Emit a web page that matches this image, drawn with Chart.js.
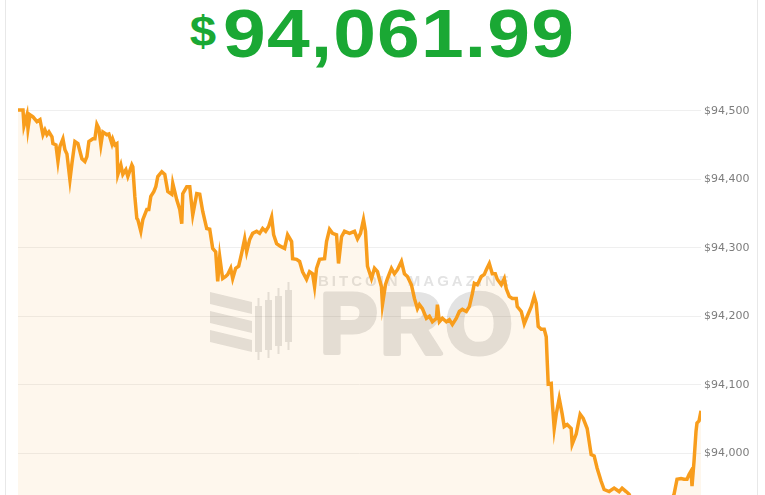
<!DOCTYPE html>
<html>
<head>
<meta charset="utf-8">
<script src="https://cdn.jsdelivr.net/npm/chart.js@4.4.1/dist/chart.umd.min.js"></script>
<style>
  html, body { margin: 0; padding: 0; background: #fff; overflow: hidden; width: 765px; height: 495px; }
  .card { position: absolute; left: 5px; top: -20px; width: 751px; height: 600px; border: 1px solid #e8e8e8; border-radius: 6px; }
  .price { position: absolute; left: 0; top: -7px; width: 765px; text-align: center; }
  .price span.num { display: inline-block; transform: scaleX(1.13); color: #1aa834;
           font-family: "Liberation Sans", Arial, sans-serif; font-weight: bold; font-size: 68px; line-height: 80px;
           letter-spacing: 1px; white-space: nowrap; }
  .price .cur { font-size: 42px; position: relative; top: -11px; letter-spacing: 6px; }
  .wrap { position: absolute; left: 0; top: 95px; width: 765px; height: 450px; }
</style>
</head>
<body>
<div class="card"></div>
<div class="price"><span class="num"><span class="cur">$</span>94,061.99</span></div>
<div class="wrap"><canvas id="price-chart" width="765" height="450"></canvas></div>
<script>
// minutes since start of the window
const minutes = [
  0, 10, 12, 18, 20, 24, 30, 38, 44, 50, 54, 58, 62, 68, 70, 76, 80, 84, 90, 94, 98,
  104, 108, 114, 120, 128, 134, 138, 142, 150, 154, 158, 162, 166, 170, 178, 182, 188, 190, 194, 198,
  200, 206, 210, 216, 220, 228, 230, 234, 238, 240, 246, 250, 258, 262, 266, 272, 276, 280, 288, 294,
  300, 308, 310, 318, 324, 328, 330, 338, 344, 350, 358, 364, 370, 378, 384, 390, 396,
  400, 404, 408, 410, 416, 420, 426, 430, 436, 442, 448, 454, 458, 464, 470, 478, 484, 490, 496,
  502, 508, 512, 518, 526, 534, 540, 548, 550, 558, 564, 570, 578, 584, 590, 594, 598,
  604, 614, 618, 624, 630, 638, 642, 648, 654, 664, 674, 680, 686, 692, 696,
  700, 708, 714, 720, 728, 730, 736, 740, 748, 754, 760, 768, 774, 780, 788, 794,
  800, 804, 810, 818, 824, 830, 838, 840, 844, 850, 858, 864, 870, 878, 884, 890, 898,
  904, 910, 914, 920, 928, 934, 938, 944, 950, 956, 960, 968, 974, 978, 984, 990, 998,
  1000, 1008, 1014, 1020, 1028, 1034, 1038, 1042, 1048, 1054, 1058, 1060, 1062, 1068, 1070, 1074, 1078, 1084, 1090, 1094,
  1100, 1108, 1110, 1118, 1126, 1132, 1140, 1148, 1154, 1160, 1168, 1174, 1184, 1194,
  1204, 1210, 1218, 1224, 1234, 1254, 1274, 1294,
  1308, 1314, 1320, 1328, 1334, 1340, 1344, 1348, 1350, 1354, 1358, 1360, 1364, 1368
];

const prices = [
  94501, 94501, 94478, 94494, 94474, 94494, 94491, 94484, 94487, 94465, 94472, 94465, 94469, 94462, 94452, 94450, 94426, 94448, 94459, 94443, 94437,
  94399, 94423, 94455, 94452, 94430, 94426, 94433, 94455, 94459, 94459, 94480, 94474, 94450, 94469, 94465, 94466, 94452, 94458, 94450, 94452,
  94407, 94421, 94407, 94414, 94404, 94421, 94418, 94375, 94343, 94341, 94324, 94341, 94356, 94356, 94375, 94382, 94389, 94404, 94411, 94407,
  94382, 94378, 94394, 94370, 94356, 94335, 94379, 94389, 94389, 94348, 94379, 94378, 94353, 94328, 94327, 94299, 94294,
  94251, 94287, 94265, 94255, 94258, 94261, 94270, 94255, 94270, 94273, 94292, 94313, 94294, 94312, 94321, 94324, 94321, 94328, 94324,
  94331, 94345, 94319, 94306, 94302, 94299, 94319, 94309, 94284, 94283, 94280, 94265, 94254, 94265, 94262, 94243, 94270,
  94283, 94284, 94309, 94327, 94321, 94319, 94277, 94316, 94324, 94321, 94324, 94313, 94321, 94341, 94324,
  94273, 94255, 94270, 94265, 94243, 94217, 94246, 94255, 94270, 94262, 94268, 94280, 94262, 94258, 94246, 94226,
  94211, 94217, 94211, 94197, 94200, 94192, 94197, 94217, 94192, 94197, 94192, 94195, 94188, 94197, 94207, 94210, 94207,
  94214, 94233, 94248, 94246, 94258, 94261, 94268, 94277, 94262, 94262, 94254, 94246, 94255, 94240, 94229, 94226, 94226,
  94214, 94207, 94189, 94200, 94214, 94229, 94219, 94185, 94181, 94181, 94170, 94134, 94101, 94102, 94076, 94036, 94057, 94080, 94057, 94039,
  94042, 94036, 94013, 94028, 94057, 94051, 94036, 93998, 93996, 93978, 93959, 93947, 93944, 93949,
  93944, 93949, 93944, 93940, 93923, 93908, 93912, 93918,
  93930, 93940, 93962, 93963, 93962, 93962, 93969, 93974, 93952, 93988, 94032, 94044, 94047, 94062
];

const yTicks = [93900, 94000, 94100, 94200, 94300, 94400, 94500];
const yMin = 93880;
const yMax = 94509;

const points = minutes.map((m, i) => ({ x: m, y: prices[i] }));

// faint "Bitcoin Magazine PRO" watermark behind the line (drawn opaque offscreen, then faded)
const mark = document.createElement('canvas');
mark.width = 765; mark.height = 450;
(function () {
  const c = mark.getContext('2d');
  const top = 95;
  c.fillStyle = 'rgb(100,100,100)';
  c.strokeStyle = 'rgb(100,100,100)';
  for (let i = 0; i < 3; i++) {
    const y0 = 292 - top + i * 19;
    c.beginPath();
    c.moveTo(210, y0);
    c.lineTo(252, y0 + 10);
    c.lineTo(252, y0 + 22);
    c.lineTo(210, y0 + 12);
    c.closePath();
    c.fill();
  }
  const candles = [[258, 306, 352], [268, 300, 350], [278, 296, 346], [288, 290, 342]];
  candles.forEach(k => {
    c.fillRect(k[0] - 3, k[1] - top, 7, k[2] - k[1]);
    c.fillRect(k[0] - 0.5, k[1] - 8 - top, 2, k[2] - k[1] + 16);
  });
  c.font = 'bold 86px "Liberation Sans", Arial, sans-serif';
  c.lineWidth = 5;
  c.lineJoin = 'round';
  c.letterSpacing = '3px';
  c.fillText('PRO', 320, 353 - top);
  c.strokeText('PRO', 320, 353 - top);
  c.font = 'bold 15px "Liberation Sans", Arial, sans-serif';
  c.letterSpacing = '3px';
  c.fillText('BITCOIN MAGAZINE', 318, 286 - top);
})();

const watermark = {
  id: 'watermark',
  beforeDatasetsDraw(chart) {
    const ctx = chart.ctx;
    ctx.save();
    ctx.globalAlpha = 0.18;
    ctx.drawImage(mark, 0, 0);
    ctx.restore();
  }
};

new Chart(document.getElementById('price-chart').getContext('2d'), {
  type: 'line',
  data: {
    datasets: [{
      data: points,
      borderColor: '#f89d1c',
      borderWidth: 3.5,
      backgroundColor: 'rgba(247, 150, 26, 0.08)',
      fill: 'start',
      pointRadius: 0,
      tension: 0
    }]
  },
  options: {
    responsive: false,
    animation: false,
    devicePixelRatio: 1,
    layout: { padding: { left: 18, top: 4, right: 0, bottom: 0 } },
    plugins: { legend: { display: false }, tooltip: { enabled: false } },
    scales: {
      x: { type: 'linear', min: 0, max: 1368, display: false },
      y: {
        position: 'right',
        min: yMin,
        max: yMax,
        afterBuildTicks: scale => { scale.ticks = yTicks.map(v => ({ value: v })); },
        afterFit: scale => { scale.width = 64; },
        border: { display: false },
        grid: { color: '#efefef', lineWidth: 1, drawTicks: false },
        ticks: {
          padding: 3,
          color: '#7d7d7d',
          font: { family: '"DejaVu Sans", Verdana, sans-serif', size: 11 },
          callback: v => '$' + v.toLocaleString('en-US')
        }
      }
    }
  },
  plugins: [watermark]
});
</script>
</body>
</html>
